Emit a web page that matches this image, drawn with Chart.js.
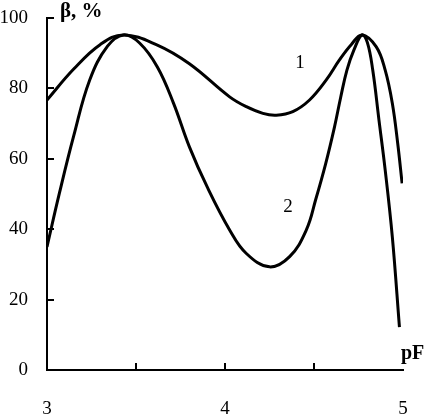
<!DOCTYPE html>
<html>
<head>
<meta charset="utf-8">
<script src="https://cdn.jsdelivr.net/npm/chart.js@4"></script>
<style>
  html, body { margin: 0; padding: 0; background: #fff; overflow: hidden; }
  canvas { display: block; }
</style>
</head>
<body>
<canvas id="myChart" width="424" height="417"></canvas>
<script>
// curve 1
const pF1 = [3.00, 3.15, 3.30, 3.43, 3.62, 3.80, 4.026, 4.12, 4.213, 4.288, 4.381, 4.475, 4.569,
  4.643, 4.71, 4.77, 4.85, 4.90, 4.94, 4.97, 4.995];
const beta1 = [76.7, 85.5, 92.5, 95.2, 92.3, 87, 77.6, 74.8, 72.9, 72.4, 73.4, 76.7, 82.4,
  88.1, 92.5, 95.2, 91.8, 85.2, 75.8, 64.5, 53];

// curve 2
const pF2 = [3.00, 3.07, 3.15, 3.24, 3.34, 3.43, 3.52, 3.62, 3.71, 3.80, 3.90, 4.026, 4.12, 4.25,
  4.363, 4.457, 4.51, 4.565, 4.615, 4.65, 4.685, 4.725, 4.77, 4.80, 4.83, 4.865, 4.90, 4.94, 4.98];
const beta2 = [35, 50.3, 66.5, 82.4, 92, 95.2, 92.9, 86.1, 75.9, 63.4, 52, 39.8, 33.1, 29.3,
  32.2, 39.8, 48.5, 58.5, 69, 77.5, 85.2, 91, 95.2, 93, 85.2, 71, 56.8, 37.8, 12.2];

const xTicks = [3, 4, 5];
const xMinorTicks = [3.5, 4, 4.5];
const yTicks = [0, 20, 40, 60, 80, 100];

const serif = '"Liberation Serif", "Times New Roman", serif';
Chart.defaults.font.family = serif;
Chart.defaults.font.size = 19;
Chart.defaults.color = '#000';

const toPoints = (xs, ys) => xs.map((x, i) => ({ x: x, y: ys[i] }));

// inward tick marks + curve labels + axis titles
const extras = {
  id: 'extras',
  afterDraw(chart) {
    const { ctx, scales: { x, y } } = chart;
    ctx.save();
    ctx.strokeStyle = '#000';
    ctx.lineWidth = 2;
    ctx.beginPath();
    yTicks.forEach((v) => {
      if (v === 0) return;
      const py = Math.round(y.getPixelForValue(v));
      ctx.moveTo(x.left, py);
      ctx.lineTo(x.left + 7, py);
    });
    xMinorTicks.forEach((v) => {
      const px = Math.round(x.getPixelForValue(v));
      ctx.moveTo(px, y.bottom);
      ctx.lineTo(px, y.bottom - 7);
    });
    ctx.stroke();

    ctx.fillStyle = '#000';
    ctx.textAlign = 'center';
    ctx.textBaseline = 'middle';
    ctx.font = '19px ' + serif;
    ctx.fillText('1', 300, 63);
    ctx.fillText('2', 288, 207);
    ctx.font = 'bold 21px ' + serif;
    ctx.textAlign = 'left';
    ctx.fillText('β, %', 60, 12);
    ctx.font = 'bold 20px ' + serif;
    ctx.fillText('pF', 401, 354);
    ctx.restore();
  },
};

const lineStyle = {
  borderColor: '#000',
  borderWidth: 3,
  pointRadius: 0,
  fill: false,
  tension: 0.4,
};

// fixed axis sizes so the plot box sits where the original one does
const fixX = (s) => { s.height = 47; s.paddingLeft = 0; s.paddingRight = 0; };
const fixY = (s) => { s.width = 46; s.paddingTop = 0; s.paddingBottom = 0; };

new Chart(document.getElementById('myChart'), {
  type: 'line',
  data: {
    datasets: [
      { ...lineStyle, label: '1', data: toPoints(pF1, beta1) },
      { ...lineStyle, label: '2', data: toPoints(pF2, beta2) },
    ],
  },
  options: {
    responsive: false,
    animation: false,
    layout: { padding: { left: 1, right: 21, top: 18, bottom: 0 } },
    scales: {
      x: {
        type: 'linear',
        min: 3,
        max: 5,
        afterBuildTicks: (s) => { s.ticks = xTicks.map((v) => ({ value: v })); },
        afterFit: fixX,
        ticks: { padding: 30, maxRotation: 0, font: { lineHeight: 1 } },
        grid: { display: false, drawTicks: false },
        border: { display: true, color: '#000', width: 2 },
      },
      y: {
        min: 0,
        max: 100,
        afterBuildTicks: (s) => { s.ticks = yTicks.map((v) => ({ value: v })); },
        afterFit: fixY,
        ticks: { padding: 19 },
        grid: { display: false, drawTicks: false },
        border: { display: true, color: '#000', width: 2 },
      },
    },
    plugins: {
      legend: { display: false },
      tooltip: { enabled: false },
    },
  },
  plugins: [extras],
});
</script>
</body>
</html>
